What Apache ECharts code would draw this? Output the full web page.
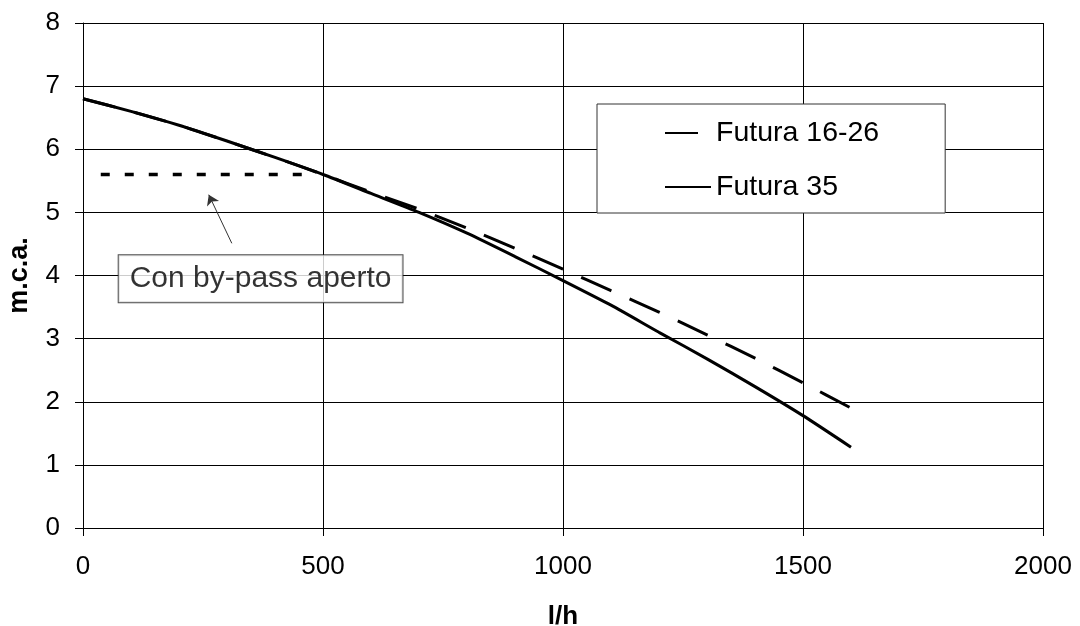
<!DOCTYPE html>
<html>
<head>
<meta charset="utf-8">
<script src="https://cdn.jsdelivr.net/npm/echarts@6/dist/echarts.min.js"></script>
<style>html,body{margin:0;padding:0;background:#fff;overflow:hidden;}#c{width:1080px;height:626px;}</style>
</head>
<body>
<div id="c"></div>
<script>
const flow = [0,100,200,300,400,500,600,700,800,900,1000,1100,1200,1300,1400,1500,1600];
const futura1626 = [6.8,6.6,6.38,6.13,5.87,5.6,5.32,5.05,4.75,4.43,4.1,3.76,3.42,3.06,2.69,2.3,1.9];
const futura35 = [6.8,6.6,6.38,6.13,5.87,5.6,5.3,5.0,4.67,4.3,3.92,3.53,3.1,2.68,2.24,1.78,1.28];
const bypassX = [37,456];
const bypassY = [5.6,5.6];
const arrowFrom = [310,4.51];
const arrowTo = [262,5.28];
const noteAt = [370,3.95];
const noteText = 'Con by-pass aperto';
const xTicks = {min:0,max:2000,interval:500};
const yTicks = {min:0,max:8,interval:1};

const FONT = '"Liberation Sans", Arial, sans-serif';
const pairs = (xs, ys) => xs.map((x,i)=>[x, ys[i]]);

const chart = echarts.init(document.getElementById('c'), null, {renderer:'canvas', width:1080, height:626});
chart.setOption({
  backgroundColor:'#fff',
  animation:false,
  textStyle:{fontFamily:FONT, color:'#000'},
  grid:{left:83, top:23, width:960, height:505, containLabel:false, outerBoundsMode:'none'},
  xAxis:{
    type:'value', min:xTicks.min, max:xTicks.max, interval:xTicks.interval,
    name:'l/h', nameLocation:'middle', nameGap:76,
    nameTextStyle:{fontFamily:FONT, fontSize:26, fontWeight:'bold', color:'#000'},
    axisLine:{show:true, onZero:false, lineStyle:{color:'#000', width:1}},
    axisTick:{show:true, length:8, lineStyle:{color:'#000', width:1}},
    axisLabel:{fontFamily:FONT, fontSize:26, color:'#000', margin:26, formatter:(v)=>String(v)},
    splitLine:{show:true, lineStyle:{color:'#000', width:1}}
  },
  yAxis:{
    type:'value', min:yTicks.min, max:yTicks.max, interval:yTicks.interval,
    name:'m.c.a.', nameLocation:'middle', nameGap:50,
    nameTextStyle:{fontFamily:FONT, fontSize:27, fontWeight:'bold', color:'#000'},
    axisLine:{show:true, onZero:false, lineStyle:{color:'#000', width:1}},
    axisTick:{show:true, length:8, lineStyle:{color:'#000', width:1}},
    axisLabel:{fontFamily:FONT, fontSize:26, color:'#000', margin:23, formatter:(v)=>String(v)},
    splitLine:{show:true, lineStyle:{color:'#000', width:1}}
  },
  legend:{
    orient:'vertical', left:597, top:104,
    padding:[14,66,11,67],
    itemWidth:46, itemHeight:14, itemGap:24,
    backgroundColor:'#fff', borderColor:'#333', borderWidth:1,
    itemStyle:{color:'rgba(0,0,0,0)', borderWidth:0, opacity:0},
    textStyle:{fontFamily:FONT, fontSize:28.5, color:'#000', lineHeight:30},
    data:['Futura 16-26','Futura 35']
  },
  series:[
    {
      name:'Futura 16-26', type:'line', data:pairs(flow,futura1626),
      symbol:'none', smooth:0.2, z:3,
      lineStyle:{color:'#000', width:3, type:[33,20]},
      itemStyle:{color:'rgba(0,0,0,0)'}
    },
    {
      name:'Futura 35', type:'line', data:pairs(flow,futura35),
      symbol:'none', smooth:0.2, z:4,
      lineStyle:{color:'#000', width:3, type:'solid'},
      itemStyle:{color:'rgba(0,0,0,0)'}
    },
    {
      name:'bypass', type:'line', data:pairs(bypassX,bypassY),
      symbol:'none', z:3,
      lineStyle:{color:'#000', width:3.5, type:[9,15]}
    },
    {
      name:'arrow', type:'lines', coordinateSystem:'cartesian2d', z:5,
      symbol:['none','arrow'], symbolSize:10,
      lineStyle:{color:'#333', width:1, opacity:1},
      data:[{coords:[arrowFrom, arrowTo]}]
    },
    {
      name:'note', type:'scatter', data:[noteAt], symbolSize:0, z:6,
      silent:true,
      label:{
        show:true, position:'inside', formatter:noteText,
        fontFamily:FONT, fontSize:30, color:'#000', lineHeight:33,
        backgroundColor:'#fff', borderColor:'#222', borderWidth:1,
        padding:[7,11,7,11]
      }
    }
  ]
});
</script>
</body>
</html>
